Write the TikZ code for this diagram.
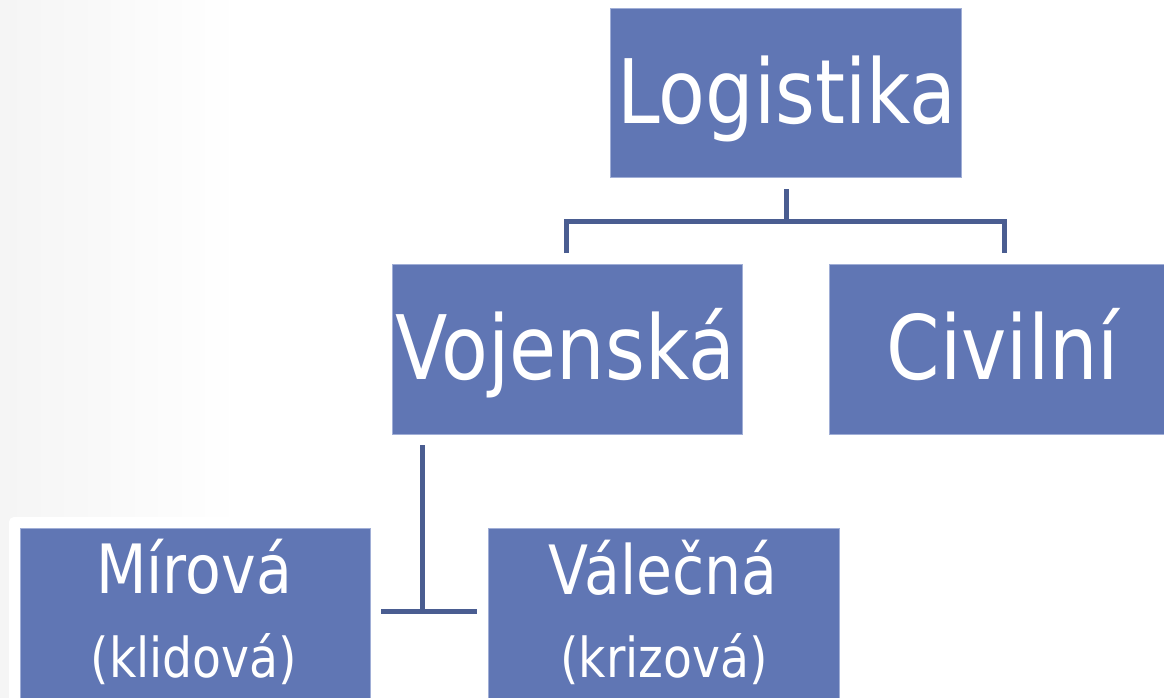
\documentclass[tikz,border=0pt]{standalone}
\usepackage{fontspec}
\newfontfamily\dfont[FakeStretch=0.86]{DejaVu Sans}
\definecolor{boxblue}{RGB}{96,118,180}
\definecolor{boxedge}{RGB}{160,174,214}
\definecolor{linkblue}{RGB}{74,93,145}
\begin{document}
\begin{tikzpicture}[x=1pt,y=-1pt,
  box/.style={draw=boxedge,line width=0.8pt,fill=boxblue,inner sep=0pt,anchor=north west},
  txt/.style={text=white,inner sep=0pt,anchor=base,font=\dfont},
  link/.style={draw=linkblue,line width=5pt}]
\useasboundingbox (0,0) rectangle (1164,697);
\fill[white] (0,0) rectangle (1164,697);
\shade[left color=black!4,right color=white] (0,0) rectangle (240,697);
\fill[white,rounded corners=5pt] (9,517) rectangle (385,710);
\begin{scope}
\clip (0,0) rectangle (1164,697);
% boxes
\node[box,minimum width=351pt,minimum height=169pt] (log) at (610,8) {};
\node[box,minimum width=350pt,minimum height=170pt] (voj) at (392,264) {};
\node[box,minimum width=350pt,minimum height=170pt] (civ) at (829,264) {};
\node[box,minimum width=350pt,minimum height=175pt] (mir) at (20,528) {};
\node[box,minimum width=351pt,minimum height=175pt] (val) at (488,528) {};
% texts
\node[txt,font=\dfont\fontsize{89}{100}\selectfont] (tlog) at (787,123) {Logistika};
\node[txt,font=\dfont\fontsize{89}{100}\selectfont] (tvoj) at (565,379) {Vojenská};
\node[txt,font=\dfont\fontsize{89}{100}\selectfont] (tciv) at (1003,379) {Civilní};
\node[txt,font=\dfont\fontsize{68}{80}\selectfont] (tmir) at (194,593) {Mírová};
\node[txt,font=\dfont\fontsize{55}{66}\selectfont] (tkli) at (194,677) {(klidová)};
\node[txt,font=\dfont\fontsize{68}{80}\selectfont] (tval) at (663,594) {Válečná};
\node[txt,font=\dfont\fontsize{55}{66}\selectfont] (tkri) at (664,677) {(krizová)};
\end{scope}
% connectors
\coordinate (l0) at (786,189);
\coordinate (lj) at (786,221);
\coordinate (ll) at (566,253);
\coordinate (lr) at (1004,253);
\draw[link] (l0) -- (lj);
\draw[link] (ll) |- (lj) -| (lr);
\coordinate (v0) at (422,445);
\coordinate (vj) at (422,611);
\coordinate (vl) at (381,611);
\coordinate (vr) at (477,611);
\draw[link] (v0) -- (vj);
\draw[link] (vl) -- (vr);
\end{tikzpicture}
\end{document}
